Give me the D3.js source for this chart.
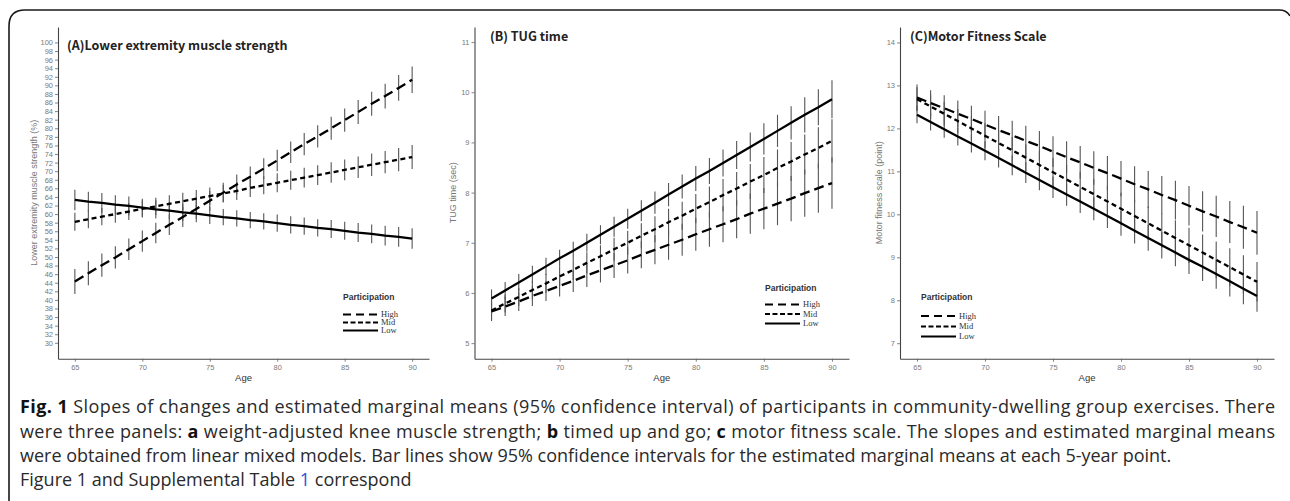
<!DOCTYPE html>
<html>
<head>
<meta charset="utf-8">
<script src="https://cdn.jsdelivr.net/npm/d3@7"></script>
<style>
  body { margin: 0; background: #fff; }
  svg { display: block; }
</style>
</head>
<body>
<svg width="1290" height="501"></svg>
<script>
const ages = [65, 66, 67, 68, 69, 70, 71, 72, 73, 74, 75, 76, 77, 78, 79, 80, 81, 82, 83, 84, 85, 86, 87, 88, 89, 90];
const ageTicks = [65, 70, 75, 80, 85, 90];
const groups = ["High", "Mid", "Low"];

// (A) lower extremity muscle strength (%)
const strengthHigh = [44.3, 46.2, 48.1, 49.9, 51.8, 53.7, 55.6, 57.5, 59.3, 61.2, 63.1, 65.0, 66.9, 68.7, 70.6, 72.5, 74.4, 76.3, 78.1, 80.0, 81.9, 83.8, 85.7, 87.5, 89.4, 91.3];
const strengthMid = [58.2, 58.8, 59.4, 60.0, 60.6, 61.2, 61.8, 62.4, 63.0, 63.6, 64.2, 64.8, 65.4, 66.1, 66.7, 67.3, 67.9, 68.5, 69.1, 69.7, 70.3, 70.9, 71.5, 72.1, 72.7, 73.3];
const strengthLow = [63.3, 62.9, 62.6, 62.2, 61.9, 61.5, 61.1, 60.8, 60.4, 60.1, 59.7, 59.3, 59.0, 58.6, 58.3, 57.9, 57.5, 57.2, 56.8, 56.5, 56.1, 55.7, 55.4, 55.0, 54.7, 54.3];
const strengthHighErr = [2.9, 2.8, 2.7, 2.6, 2.5, 2.5, 2.4, 2.4, 2.3, 2.3, 2.3, 2.3, 2.3, 2.4, 2.4, 2.5, 2.5, 2.6, 2.6, 2.7, 2.7, 2.8, 2.8, 2.9, 3.0, 3.1];
const strengthMidErr = [2.1, 2.1, 2.0, 2.0, 2.0, 2.0, 2.0, 2.0, 2.0, 2.0, 2.0, 2.0, 2.1, 2.1, 2.1, 2.2, 2.2, 2.3, 2.3, 2.4, 2.4, 2.5, 2.6, 2.6, 2.7, 2.8];
const strengthLowErr = [2.4, 2.3, 2.3, 2.2, 2.2, 2.1, 2.1, 2.0, 2.0, 2.0, 2.0, 1.9, 1.9, 1.9, 1.9, 2.0, 2.0, 2.0, 2.0, 2.1, 2.1, 2.2, 2.2, 2.3, 2.3, 2.4];
const strengthTicks = [30, 32, 34, 36, 38, 40, 42, 44, 46, 48, 50, 52, 54, 56, 58, 60, 62, 64, 66, 68, 70, 72, 74, 76, 78, 80, 82, 84, 86, 88, 90, 92, 94, 96, 98, 100];

// (B) TUG time (sec)
const tugHigh = [5.63, 5.73, 5.83, 5.94, 6.04, 6.14, 6.24, 6.35, 6.45, 6.55, 6.65, 6.76, 6.86, 6.96, 7.06, 7.17, 7.27, 7.37, 7.47, 7.58, 7.68, 7.78, 7.88, 7.99, 8.09, 8.19];
const tugMid = [5.65, 5.79, 5.92, 6.06, 6.19, 6.33, 6.46, 6.60, 6.73, 6.87, 7.00, 7.14, 7.27, 7.41, 7.54, 7.68, 7.81, 7.95, 8.08, 8.22, 8.35, 8.49, 8.62, 8.76, 8.89, 9.03];
const tugLow = [5.89, 6.05, 6.21, 6.37, 6.53, 6.69, 6.84, 7.00, 7.16, 7.32, 7.48, 7.64, 7.80, 7.96, 8.12, 8.28, 8.43, 8.59, 8.75, 8.91, 9.07, 9.23, 9.39, 9.55, 9.70, 9.86];
const tugHighErr = [0.19, 0.19, 0.19, 0.20, 0.20, 0.21, 0.22, 0.23, 0.24, 0.25, 0.26, 0.27, 0.29, 0.30, 0.32, 0.33, 0.35, 0.36, 0.38, 0.40, 0.41, 0.43, 0.45, 0.47, 0.49, 0.51];
const tugMidErr = [0.19, 0.18, 0.18, 0.18, 0.19, 0.19, 0.20, 0.21, 0.22, 0.23, 0.24, 0.25, 0.26, 0.27, 0.28, 0.29, 0.31, 0.32, 0.33, 0.35, 0.36, 0.37, 0.39, 0.40, 0.41, 0.43];
const tugLowErr = [0.18, 0.17, 0.17, 0.17, 0.17, 0.17, 0.18, 0.18, 0.19, 0.20, 0.20, 0.21, 0.22, 0.23, 0.24, 0.25, 0.26, 0.27, 0.28, 0.29, 0.31, 0.32, 0.33, 0.35, 0.36, 0.38];
const tugTicks = [5, 6, 7, 8, 9, 10, 11];

// (C) motor fitness scale (point)
const fitnessHigh = [12.72, 12.59, 12.47, 12.34, 12.22, 12.09, 11.96, 11.84, 11.71, 11.59, 11.46, 11.33, 11.21, 11.08, 10.96, 10.83, 10.70, 10.58, 10.45, 10.33, 10.20, 10.07, 9.95, 9.82, 9.70, 9.57];
const fitnessMid = [12.68, 12.51, 12.34, 12.17, 12.00, 11.83, 11.66, 11.49, 11.32, 11.15, 10.98, 10.81, 10.64, 10.47, 10.30, 10.13, 9.96, 9.79, 9.62, 9.45, 9.28, 9.11, 8.94, 8.77, 8.60, 8.43];
const fitnessLow = [12.32, 12.15, 11.98, 11.81, 11.65, 11.48, 11.31, 11.14, 10.97, 10.80, 10.63, 10.46, 10.30, 10.13, 9.96, 9.79, 9.62, 9.45, 9.28, 9.11, 8.94, 8.78, 8.61, 8.44, 8.27, 8.10];
const fitnessHighErr = [0.30, 0.30, 0.30, 0.31, 0.31, 0.32, 0.33, 0.34, 0.35, 0.35, 0.36, 0.37, 0.38, 0.39, 0.40, 0.41, 0.42, 0.43, 0.44, 0.45, 0.46, 0.47, 0.48, 0.49, 0.50, 0.51];
const fitnessMidErr = [0.28, 0.28, 0.28, 0.28, 0.29, 0.29, 0.30, 0.31, 0.31, 0.32, 0.33, 0.34, 0.35, 0.35, 0.36, 0.37, 0.38, 0.39, 0.40, 0.41, 0.41, 0.42, 0.43, 0.44, 0.45, 0.46];
const fitnessLowErr = [0.20, 0.20, 0.20, 0.21, 0.21, 0.22, 0.22, 0.23, 0.24, 0.24, 0.25, 0.26, 0.27, 0.27, 0.28, 0.29, 0.30, 0.30, 0.31, 0.32, 0.33, 0.33, 0.34, 0.35, 0.36, 0.37];
const fitnessTicks = [7, 8, 9, 10, 11, 12, 13, 14];

const dashes = { High: "10,5", Mid: "5,3.5", Low: null };
const legendDashes = { High: "8,5", Mid: "5,2.5", Low: null };

const svg = d3.select("svg");

// outer frame, rounded at the top corners
svg.append("path")
   .attr("d", "M9,501 V26 Q9,10 25,10 H1279 Q1287,10 1290,16")
   .attr("fill", "none")
   .attr("stroke", "#1a1a1a")
   .attr("stroke-width", 1.6);

const panels = [
  {
    title: "(A)Lower extremity muscle strength", titleX: 67, titleY: 50,
    yLabel: "Lower extremity muscle strength (%)", yLabelX: 34,
    x0: 58, x1: 429, yDomain: [26.3, 103.6], ticks: strengthTicks,
    series: { High: [strengthHigh, strengthHighErr], Mid: [strengthMid, strengthMidErr], Low: [strengthLow, strengthLowErr] },
    legend: { x: 343, titleY: 300, rows: [314.5, 322.5, 330.5] }
  },
  {
    title: "(B) TUG time", titleX: 490, titleY: 41,
    yLabel: "TUG time (sec)", yLabelX: 453,
    x0: 474.5, x1: 849, yDomain: [4.69, 11.3], ticks: tugTicks,
    series: { High: [tugHigh, tugHighErr], Mid: [tugMid, tugMidErr], Low: [tugLow, tugLowErr] },
    legend: { x: 765, titleY: 291, rows: [304.5, 314, 323.5] }
  },
  {
    title: "(C)Motor Fitness Scale", titleX: 910, titleY: 41,
    yLabel: "Motor fitness scale (point)", yLabelX: 879,
    x0: 900, x1: 1274, yDomain: [6.64, 14.36], ticks: fitnessTicks,
    series: { High: [fitnessHigh, fitnessHighErr], Mid: [fitnessMid, fitnessMidErr], Low: [fitnessLow, fitnessLowErr] },
    legend: { x: 921, titleY: 300, rows: [316, 326.5, 336.5] }
  }
];

const plotTop = 27, plotBottom = 358.7;

panels.forEach(p => {
  const x = d3.scaleLinear().domain([63.75, 91.25]).range([p.x0, p.x1]);
  const y = d3.scaleLinear().domain(p.yDomain).range([plotBottom, plotTop]);
  const g = svg.append("g");

  // error bars first, lines over them
  groups.forEach(k => {
    const [mean, err] = p.series[k];
    g.append("g").selectAll("line")
     .data(ages)
     .join("line")
     .attr("x1", d => x(d)).attr("x2", d => x(d))
     .attr("y1", (d, i) => y(mean[i] - err[i]))
     .attr("y2", (d, i) => y(mean[i] + err[i]))
     .attr("stroke", "#555")
     .attr("stroke-width", 1.1);
  });

  groups.forEach(k => {
    const mean = p.series[k][0];
    g.append("path")
     .datum(ages)
     .attr("d", d3.line().x(d => x(d)).y((d, i) => y(mean[i])))
     .attr("fill", "none")
     .attr("stroke", "#000")
     .attr("stroke-width", 2.3)
     .attr("stroke-dasharray", dashes[k]);
  });

  const xAxis = g.append("g")
    .attr("transform", `translate(0,${plotBottom})`)
    .call(d3.axisBottom(x).tickValues(ageTicks).tickFormat(d3.format("d"))
            .tickSize(3).tickPadding(2.5).tickSizeOuter(0));
  const yAxis = g.append("g")
    .attr("transform", `translate(${p.x0},0)`)
    .call(d3.axisLeft(y).tickValues(p.ticks).tickFormat(d3.format("d"))
            .tickSize(3).tickPadding(2).tickSizeOuter(0));

  [xAxis, yAxis].forEach(a => {
    a.select(".domain").attr("stroke", "#444").attr("stroke-width", 1.1);
    a.selectAll(".tick line").attr("stroke", "#666").attr("stroke-width", 0.8);
    a.selectAll(".tick text")
     .attr("fill", "#7a7a7a")
     .style("font-family", "Liberation Sans, Arial, sans-serif")
     .style("font-size", "7.5px");
  });

  g.append("text")
   .attr("x", p.titleX).attr("y", p.titleY)
   .text(p.title)
   .style("font-family", "'Noto Sans CJK JP', 'Noto Sans', sans-serif")
   .style("font-weight", "bold")
   .style("font-size", "12.5px")
   .attr("fill", "#222");

  g.append("text")
   .attr("transform", `translate(${p.yLabelX},${(plotTop + plotBottom) / 2}) rotate(-90)`)
   .attr("text-anchor", "middle")
   .attr("dy", "0.35em")
   .text(p.yLabel)
   .style("font-family", "Liberation Sans, Arial, sans-serif")
   .style("font-size", "9px")
   .attr("fill", "#777");

  g.append("text")
   .attr("x", (p.x0 + p.x1) / 2).attr("y", 381)
   .attr("text-anchor", "middle")
   .text("Age")
   .style("font-family", "Liberation Sans, Arial, sans-serif")
   .style("font-size", "9.5px")
   .attr("fill", "#333");

  // legend
  const lg = g.append("g");
  lg.append("text")
    .attr("x", p.legend.x).attr("y", p.legend.titleY)
    .text("Participation")
    .style("font-family", "Liberation Sans, Arial, sans-serif")
    .style("font-weight", "bold")
    .style("font-size", "8.5px")
    .attr("fill", "#333");
  groups.forEach((k, i) => {
    const ry = p.legend.rows[i];
    lg.append("line")
      .attr("x1", p.legend.x).attr("x2", p.legend.x + 35)
      .attr("y1", ry).attr("y2", ry)
      .attr("stroke", "#000")
      .attr("stroke-width", 2)
      .attr("stroke-dasharray", legendDashes[k]);
    lg.append("text")
      .attr("x", p.legend.x + 38).attr("y", ry)
      .attr("dy", "0.35em")
      .text(k)
      .style("font-family", "Liberation Serif, 'Times New Roman', serif")
      .style("font-size", "8.5px")
      .attr("fill", "#333");
  });
});

// caption
const captionLines = [
  [["Fig. 1", true], [" Slopes of changes and estimated marginal means (95% confidence interval) of participants in community-dwelling group exercises. There", false]],
  [["were three panels: ", false], ["a", true], [" weight-adjusted knee muscle strength; ", false], ["b", true], [" timed up and go; ", false], ["c", true], [" motor fitness scale. The slopes and estimated marginal means", false]],
  [["were obtained from linear mixed models. Bar lines show 95% confidence intervals for the estimated marginal means at each 5-year point.", false]],
  [["Figure 1 and Supplemental Table ", false], ["1", false, "#2a4fd6"], [" correspond", false]]
];
const captionY = [413, 437.5, 462, 486];
const justifyTo = [1255, 1255, null, null];

captionLines.forEach((parts, i) => {
  const t = svg.append("text")
    .attr("x", 20).attr("y", captionY[i])
    .style("font-family", "'Open Sans', 'Noto Sans', sans-serif")
    .style("font-size", "18px")
    .attr("fill", "#2a2a2a");
  parts.forEach(([s, bold, color]) => {
    t.append("tspan")
     .text(s)
     .style("font-weight", bold ? "bold" : "normal")
     .attr("fill", color || (bold ? "#111" : "#2a2a2a"));
  });
  if (justifyTo[i]) {
    t.attr("textLength", justifyTo[i]).attr("lengthAdjust", "spacing");
  }
});
</script>
</body>
</html>
